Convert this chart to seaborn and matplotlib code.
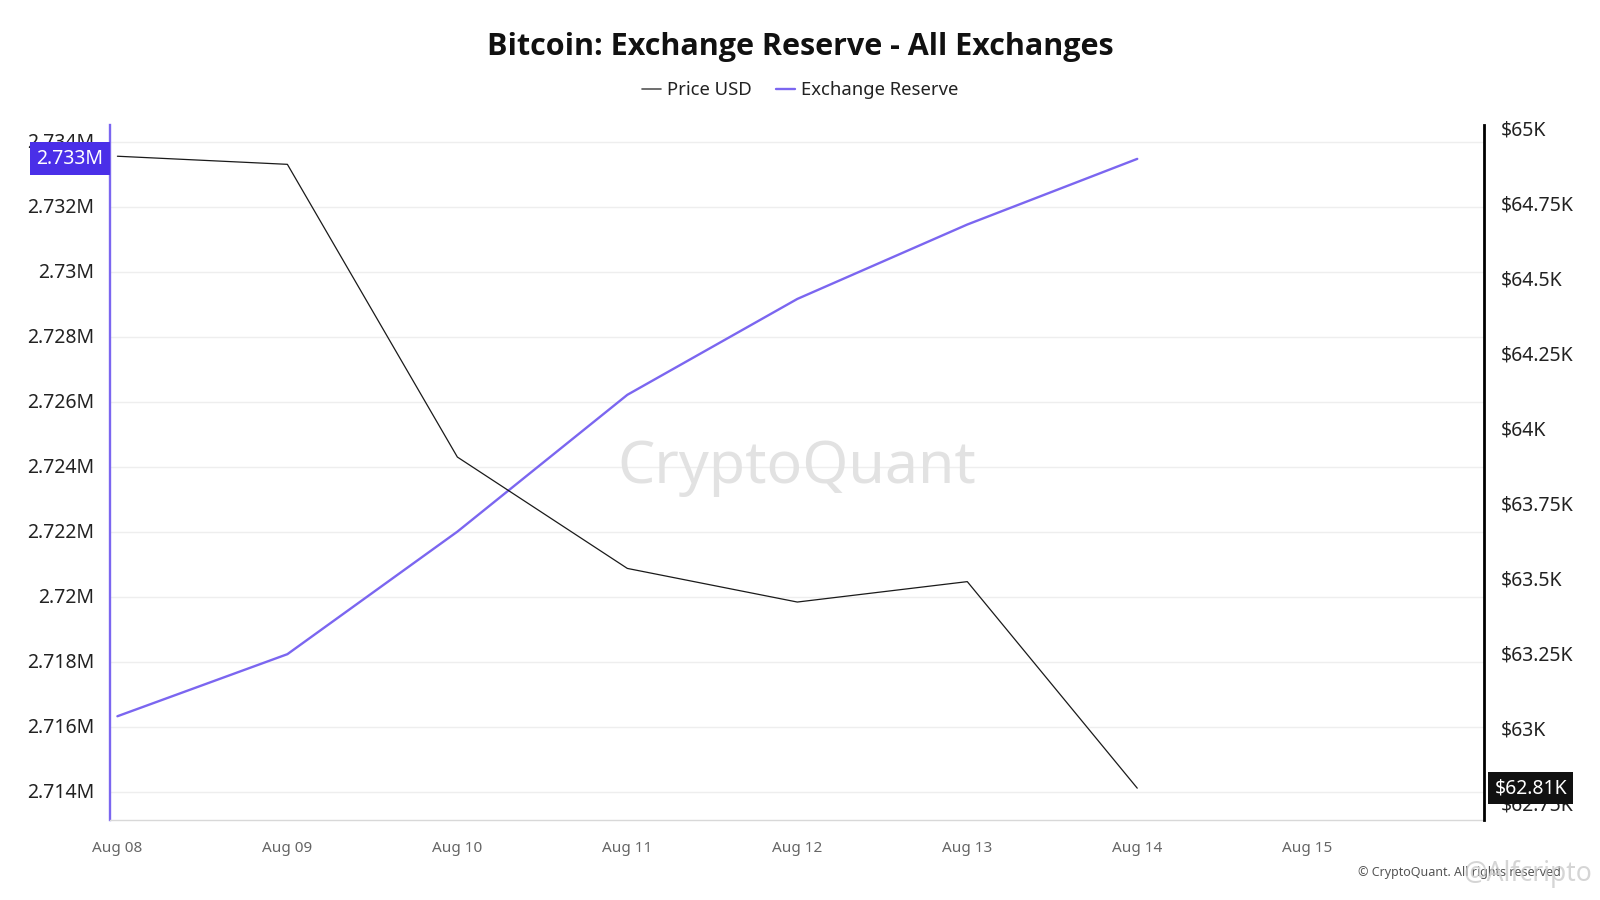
import matplotlib
matplotlib.use("Agg")
import matplotlib.pyplot as plt
import matplotlib.dates as mdates
import matplotlib.transforms as mtrans
from matplotlib.ticker import FixedLocator, FuncFormatter
from matplotlib.lines import Line2D
import seaborn as sns
import pandas as pd

# ---- data ----
dates = ["2024-08-08", "2024-08-09", "2024-08-10", "2024-08-11",
         "2024-08-12", "2024-08-13", "2024-08-14"]
reserve_m = [2.71634, 2.71825, 2.72202, 2.72623, 2.72918, 2.73147, 2.73349]  # BTC, millions
price_k = [64.911, 64.884, 63.909, 63.538, 63.426, 63.494, 62.806]          # USD, thousands
left_ticks = [2.714, 2.716, 2.718, 2.720, 2.722, 2.724, 2.726, 2.728, 2.730, 2.732, 2.734]
right_ticks = [62.75, 63.0, 63.25, 63.5, 63.75, 64.0, 64.25, 64.5, 64.75, 65.0]
x_tick_dates = ["2024-08-08", "2024-08-09", "2024-08-10", "2024-08-11",
                "2024-08-12", "2024-08-13", "2024-08-14", "2024-08-15"]
reserve_label = "2.733M"
price_label = "$62.81K"
series_names = ["Price USD", "Exchange Reserve"]

df = pd.DataFrame({"date": pd.to_datetime(dates), "reserve": reserve_m, "price": price_k})

sns.set_theme(style="white")
plt.rcParams["font.family"] = ["Noto Sans", "DejaVu Sans"]

PURPLE = "#7B66F0"
BOX_PURPLE = "#4A2FE8"
BLACK = "#1a1a1a"

fig = plt.figure(figsize=(16, 9), dpi=100)
ax = fig.add_axes([0.0686, 0.0889, 0.9275 - 0.0686, 0.8611 - 0.0889])
ax2 = ax.twinx()

sns.lineplot(data=df, x="date", y="reserve", ax=ax, color=PURPLE, linewidth=1.7, legend=False)
sns.lineplot(data=df, x="date", y="price", ax=ax2, color=BLACK, linewidth=0.9, legend=False)

# x axis
x0 = pd.Timestamp("2024-08-08")
ax.set_xlim(x0 - pd.Timedelta(days=0.045), x0 + pd.Timedelta(days=8.04))
ax.xaxis.set_major_locator(FixedLocator(mdates.date2num(pd.to_datetime(x_tick_dates))))
ax.xaxis.set_major_formatter(mdates.DateFormatter("%b %d"))
ax.tick_params(axis="x", colors="#666666", labelsize=11, length=5, width=1, direction="out",
               pad=10, color="#d0d0d0")
ax.set_xlabel("")

# left axis
ax.set_ylim(2.713148, 2.734532)
ax.yaxis.set_major_locator(FixedLocator(left_ticks))
ax.yaxis.set_major_formatter(FuncFormatter(lambda v, p: f"{v:.3f}".rstrip("0").rstrip(".") + "M"))
ax.tick_params(axis="y", colors="#222222", labelsize=14, length=0, pad=11)
ax.set_ylabel("")
ax.grid(axis="y", color="#eeeeee", linewidth=1)
ax.grid(axis="x", visible=False)

# right axis
ax2.set_ylim(62.700, 65.015)
ax2.yaxis.set_major_locator(FixedLocator(right_ticks))
ax2.yaxis.set_major_formatter(FuncFormatter(lambda v, p: "$" + f"{v:.2f}".rstrip("0").rstrip(".") + "K"))
ax2.tick_params(axis="y", colors="#222222", labelsize=14, length=0, pad=12)
ax2.set_ylabel("")
ax2.grid(False)

# nudge y tick labels up slightly, as in the reference
shift = mtrans.ScaledTranslation(0, 2 / 100, fig.dpi_scale_trans)
for lab in ax.get_yticklabels() + ax2.get_yticklabels():
    lab.set_transform(lab.get_transform() + shift)

for a in (ax, ax2):
    a.spines["top"].set_visible(False)
ax.spines["left"].set_color(PURPLE)
ax.spines["left"].set_linewidth(1.7)
ax.spines["right"].set_visible(False)
ax.spines["bottom"].set_color("#d8d8d8")
ax.spines["bottom"].set_linewidth(1)
ax2.spines["left"].set_visible(False)
ax2.spines["bottom"].set_visible(False)
ax2.spines["right"].set_color("#000000")
ax2.spines["right"].set_linewidth(2)

# value boxes
tr_l = mtrans.blended_transform_factory(ax.transAxes, ax.transData)
ax.text(-0.0045, reserve_m[-1], reserve_label, transform=tr_l, ha="right", va="center",
        color="white", fontsize=14, zorder=10, clip_on=False,
        bbox=dict(boxstyle="square,pad=0.33", fc=BOX_PURPLE, ec="none"))
tr_r = mtrans.blended_transform_factory(ax2.transAxes, ax2.transData)
ax2.text(1.0075, price_k[-1], price_label, transform=tr_r, ha="left", va="center",
         color="white", fontsize=14, zorder=10, clip_on=False,
         bbox=dict(boxstyle="square,pad=0.3", fc="#111111", ec="none"))

# title & legend
fig.text(0.5, 0.948, "Bitcoin: Exchange Reserve - All Exchanges", ha="center", va="center",
         fontsize=22, fontweight="bold", color="#111111", family=["Open Sans", "DejaVu Sans"])
handles = [Line2D([], [], color="#555555", linewidth=1.2),
           Line2D([], [], color=PURPLE, linewidth=1.7)]
fig.legend(handles, series_names, loc="center", bbox_to_anchor=(0.5, 0.900),
           ncol=2, frameon=False, fontsize=13.3, handlelength=1.07, handletextpad=0.3,
           columnspacing=1.3, labelcolor="#222222")

# watermarks
fig.text(0.498, 0.481, "CryptoQuant", ha="center", va="center", fontsize=42.5,
         color="#e2e2e2", zorder=0)
fig.text(0.9756, 0.031, "© CryptoQuant. All rights reserved", ha="right", va="center",
         fontsize=9, color="#555555")
fig.text(0.995, 0.029, "@Alfcripto", ha="right", va="center", fontsize=19,
         color="#c8c8c8", alpha=0.75)

fig.savefig("out.png", dpi=100, facecolor="white")
